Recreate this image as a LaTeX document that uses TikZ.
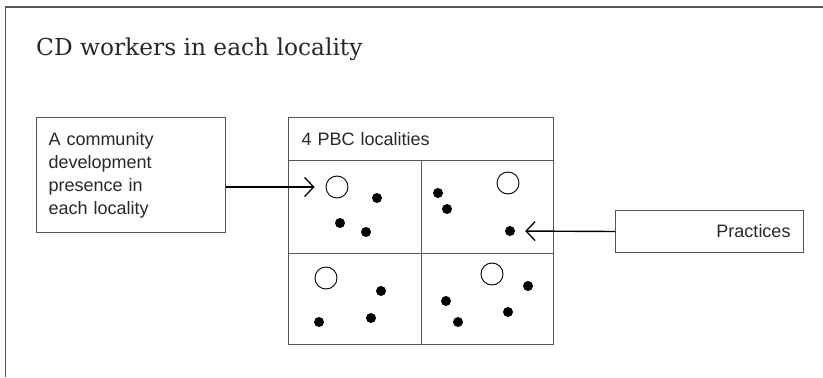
\documentclass[tikz,border=0pt]{standalone}
\usepackage{fontspec}
\setmainfont{DejaVu Serif}
\setsansfont{Liberation Sans}
\usetikzlibrary{arrows.meta}
\definecolor{framegray}{RGB}{85,85,85}
\definecolor{inkgray}{RGB}{40,40,40}
\tikzset{
  cell/.style={draw=framegray,line width=1bp,inner sep=0pt,anchor=north west},
  infobox/.style={draw=framegray,line width=1bp,inner sep=12bp,text=inkgray,
    font=\sffamily\fontsize{18bp}{23bp}\selectfont},
  hub/.style={circle,draw=black,line width=0.9bp,fill=white,minimum size=22bp,inner sep=0pt},
  worker/.style={circle,fill=black,minimum size=10bp,inner sep=0pt},
  flow/.style={-{Straight Barb[length=9bp,width=19bp,line width=1.3bp]},line width=1.4bp,black},
}
\begin{document}
\begin{tikzpicture}[x=1bp,y=1bp]
        \useasboundingbox (0,0) rectangle (823,377);
        %%
        \draw [framegray,line width=1.2bp] (5.5,0) -- (5.5,370) -- (823,370);
        \node (title) at (36,322) [anchor=base west,inner sep=0pt,text=inkgray,font=\fontsize{23.3bp}{28bp}\selectfont] {CD workers in each locality};
        %% boxes
        \node (presence) at (36,260) [infobox,anchor=north west,text width=165bp,align=left,minimum height=115bp] {A community\\development\\presence in\\each locality};
        \node (practices) at (615,167) [infobox,anchor=north west,inner sep=13bp,text width=162bp,align=right,minimum height=42bp] {Practices};
        %% localities
        \node (pbc) at (288,260) [cell,minimum width=265bp,minimum height=43bp,text width=239bp,inner xsep=13bp,align=left,text=inkgray,font=\sffamily\fontsize{18bp}{22bp}\selectfont] {4 PBC localities};
        \node (loc1) at (288,217) [cell,minimum width=133bp,minimum height=93bp] {};
        \node (loc2) at (421,217) [cell,minimum width=132bp,minimum height=93bp] {};
        \node (loc3) at (288,124) [cell,minimum width=133bp,minimum height=91bp] {};
        \node (loc4) at (421,124) [cell,minimum width=132bp,minimum height=91bp] {};
        %% workers
        \node (hub1) at (337,190) [hub] {};
        \node (w1a) at (377,179) [worker] {};
        \node (w1b) at (340,154) [worker] {};
        \node (w1c) at (366,145) [worker] {};
        \node (hub2) at (508,194) [hub] {};
        \node (w2a) at (438,184) [worker] {};
        \node (w2b) at (447,168) [worker] {};
        \node (w2c) at (510,146) [worker] {};
        \node (hub3) at (326,99) [hub] {};
        \node (w3a) at (381,86) [worker] {};
        \node (w3b) at (319,55) [worker] {};
        \node (w3c) at (371,59) [worker] {};
        \node (hub4) at (492,103) [hub] {};
        \node (w4a) at (528,91) [worker] {};
        \node (w4b) at (446,76) [worker] {};
        \node (w4c) at (458,55) [worker] {};
        \node (w4d) at (508,65) [worker] {};
        %% arrows
        \draw [flow,shorten >=11bp] (presence.east |- hub1) -- (hub1.west);
        \draw [flow,shorten >=10bp] (practices.west) -- (w2c.east);
        %
\end{tikzpicture}
\end{document}
